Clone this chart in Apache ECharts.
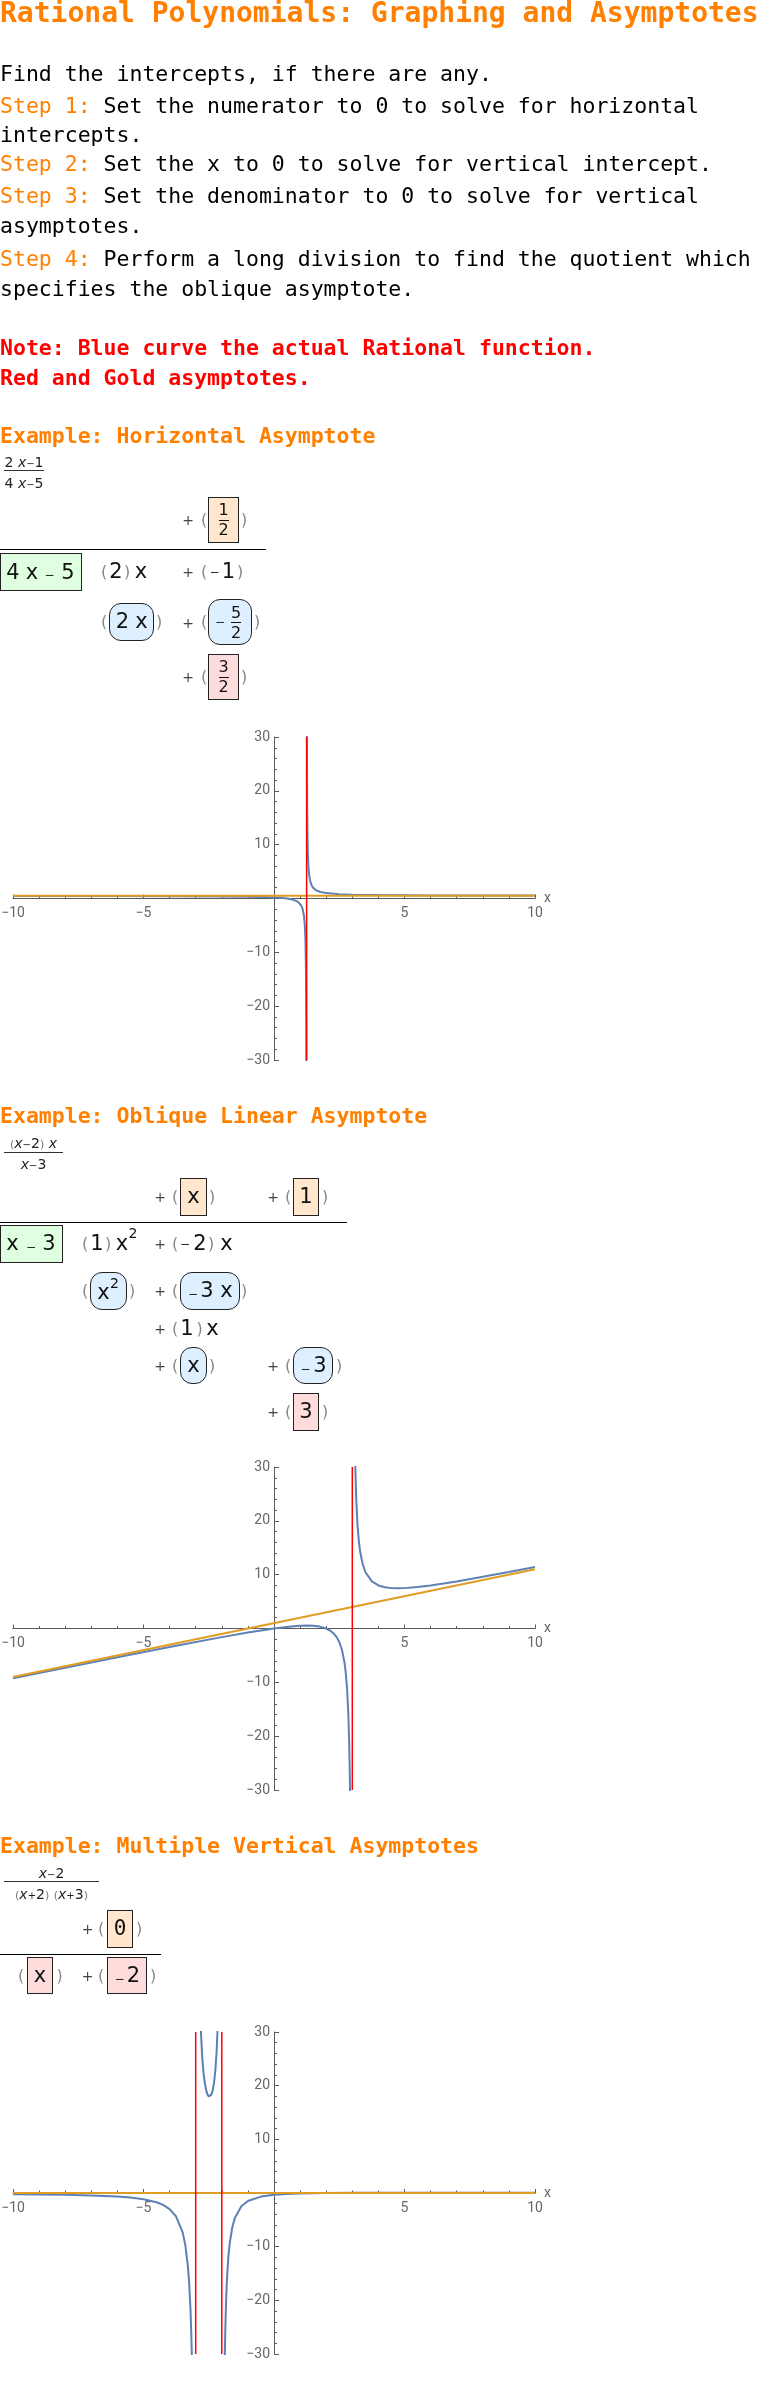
<!DOCTYPE html>
<html><head><meta charset="utf-8">
<script src="https://cdn.jsdelivr.net/npm/echarts@6/dist/echarts.min.js"></script>
<style>
body{margin:0;background:#fff;}
#page{position:relative;width:765px;height:2394px;overflow:hidden;background:#fff;}
#chart{position:absolute;left:0;top:0;width:765px;height:2394px;}
.t{position:absolute;white-space:nowrap;line-height:1;font-family:"DejaVu Sans Mono",monospace;color:#000;}
.g{position:absolute;white-space:nowrap;text-align:center;font-family:"DejaVu Sans",sans-serif;color:#111;}
.bx{position:absolute;box-sizing:border-box;border:1px solid #222;}
.or{color:#ff8000;}
</style></head>
<body><div id="page"><div id="chart"></div></div>
<script>
// ---------- data ----------
const xTickValues = [-10, -5, 0, 5, 10];
const yTickValues = [-30, -20, -10, 0, 10, 20, 30];

// Example 1: (2x-1)/(4x-5)
const ex1CurveLeft = [[-10,0.467],[-8,0.459],[-6,0.448],[-4,0.429],[-2,0.385],[-1,0.333],[-0.5,0.286],[0,0.2],[0.25,0.125],[0.5,0],[0.7,-0.182],[0.85,-0.4375],[0.95,-0.75],[1.0,-1],[1.05,-1.375],[1.1,-2],[1.15,-3.25],[1.18,-4.857],[1.2,-7],[1.21,-8.875],[1.22,-12],[1.225,-14.5],[1.23,-18.25],[1.235,-24.5],[1.2377,-30],[1.24,-37]];
const ex1CurveRight = [[1.26,38],[1.2627,30],[1.265,25.5],[1.27,19.25],[1.275,15.5],[1.28,13],[1.29,9.875],[1.3,8],[1.32,5.857],[1.35,4.25],[1.4,3],[1.45,2.375],[1.5,2],[1.6,1.571],[1.75,1.25],[2,1],[2.5,0.8],[3,0.714],[4,0.636],[5,0.6],[6,0.579],[7,0.565],[8,0.556],[10,0.543]];
const ex1Horizontal = [[-10,0.5],[10,0.5]];
const ex1Vertical = [[1.25,-30],[1.25,30]];

// Example 2: (x-2)x/(x-3)
const ex2CurveLeft = [[-10,-9.231],[-8,-7.273],[-6,-5.333],[-4,-3.429],[-2,-1.6],[-1,-0.75],[-0.5,-0.357],[0,0],[0.25,0.159],[0.5,0.3],[0.75,0.417],[1,0.5],[1.27,0.536],[1.5,0.5],[1.75,0.35],[2,0],[2.15,-0.379],[2.3,-0.986],[2.4,-1.6],[2.5,-2.5],[2.6,-3.9],[2.7,-6.3],[2.75,-8.25],[2.8,-11.2],[2.85,-16.15],[2.88,-21.12],[2.9,-26.1],[2.91,-29.42],[2.92,-33.58]];
const ex2CurveRight = [[3.1,34.1],[3.12,29.12],[3.15,24.15],[3.2,19.2],[3.25,16.25],[3.3,14.3],[3.4,11.9],[3.5,10.5],[3.75,8.75],[4,8],[4.25,7.65],[4.5,7.5],[4.73,7.464],[5,7.5],[5.5,7.7],[6,8],[7,8.75],[8,9.6],[9,10.5],[10,11.43]];
const ex2Oblique = [[-10,-9],[10,11]];
const ex2Vertical = [[3,-30],[3,30]];

// Example 3: (x-2)/((x+2)(x+3))
const ex3CurveLeft = [[-10,-0.214],[-9,-0.262],[-8,-0.333],[-7,-0.45],[-6,-0.667],[-5.5,-0.857],[-5,-1.167],[-4.5,-1.733],[-4.25,-2.222],[-4,-3],[-3.75,-4.381],[-3.5,-7.333],[-3.4,-9.643],[-3.3,-13.59],[-3.25,-16.8],[-3.2,-21.67],[-3.17,-25.99],[-3.15,-29.86],[-3.14,-32.2]];
const ex3CurveMiddle = [[-2.85,38.04],[-2.8,30],[-2.75,25.33],[-2.7,22.38],[-2.65,20.44],[-2.6,19.17],[-2.55,18.38],[-2.5,18],[-2.45,17.98],[-2.4,18.33],[-2.35,19.12],[-2.3,20.48],[-2.25,22.67],[-2.2,26.25],[-2.1667,30],[-2.15,32.55]];
const ex3CurveRight = [[-1.89,-31.86],[-1.88,-28.87],[-1.86,-24.19],[-1.83,-19.26],[-1.8,-15.83],[-1.75,-12],[-1.7,-9.487],[-1.6,-6.429],[-1.5,-4.667],[-1.25,-2.476],[-1,-1.5],[-0.5,-0.667],[0,-0.333],[0.5,-0.171],[1,-0.0833],[1.5,-0.0317],[2,0],[3,0.0333],[5,0.0536],[7,0.0556],[10,0.0513]];
const ex3Horizontal = [[-10,0],[10,0]];
const ex3VerticalA = [[-3,-30],[-3,30]];
const ex3VerticalB = [[-2,-30],[-2,30]];

// ---------- chart ----------
const BLUE = '#5e81b5', GOLD = '#e19c24', RED = '#ff0000', AX = '#5a5a5a', LB = '#666666';
const grids = [
  {left:13, top:737, width:522, height:323, containLabel:false, outerBoundsMode:'none'},
  {left:13, top:1467, width:522, height:323, containLabel:false, outerBoundsMode:'none'},
  {left:13, top:2032, width:522, height:322, containLabel:false, outerBoundsMode:'none'}
];
function fmt(v){ if (v === 0) return ''; return v < 0 ? '\u2212' + (-v) : String(v); }
const xMin = xTickValues[0], xMax = xTickValues[xTickValues.length-1];
const yMin = yTickValues[0], yMax = yTickValues[yTickValues.length-1];
// place axes through the origin (axes cross at (0,0))
const xAxes = grids.map((g,i)=>({
  gridIndex:i, type:'value', min:xMin, max:xMax, interval:5, position:'bottom',
  offset: -g.height * (0 - yMin) / (yMax - yMin),
  axisLine:{onZero:false, lineStyle:{color:AX, width:1}},
  axisTick:{inside:true, length:4, lineStyle:{color:AX}},
  minorTick:{show:true, splitNumber:5, length:2.5, lineStyle:{color:AX}},
  splitLine:{show:false},
  axisLabel:{color:LB, fontSize:14, fontFamily:'Roboto', margin:8, formatter:fmt, showMinLabel:true, showMaxLabel:true, hideOverlap:false},
  name:'x', nameLocation:'end', nameGap:9, nameTextStyle:{color:LB, fontSize:14, fontFamily:'Roboto'}
}));
const yAxes = grids.map((g,i)=>({
  gridIndex:i, type:'value', min:yMin, max:yMax, interval:10, position:'left',
  offset: -g.width * (0 - xMin) / (xMax - xMin),
  axisLine:{onZero:false, lineStyle:{color:AX, width:1}},
  axisTick:{inside:true, length:5, lineStyle:{color:AX}},
  minorTick:{show:true, splitNumber:5, length:3, lineStyle:{color:AX}},
  splitLine:{show:false},
  axisLabel:{color:LB, fontSize:14, fontFamily:'Roboto', margin:4, formatter:fmt, showMinLabel:true, showMaxLabel:true, hideOverlap:false}
}));
function ser(i, data, color, width, z){
  return {type:'line', xAxisIndex:i, yAxisIndex:i, data:data, symbol:'none', showSymbol:false,
    lineStyle:{color:color, width:width}, z:z, silent:true, clip:true};
}
const chart = echarts.init(document.getElementById('chart'));
chart.setOption({
  animation:false,
  grid:grids, xAxis:xAxes, yAxis:yAxes,
  series:[
    ser(0, ex1CurveLeft, BLUE, 2, 2), ser(0, ex1CurveRight, BLUE, 2, 2),
    ser(0, ex1Horizontal, GOLD, 2, 3), ser(0, ex1Vertical, RED, 1.5, 4),
    ser(1, ex2CurveLeft, BLUE, 2, 2), ser(1, ex2CurveRight, BLUE, 2, 2),
    ser(1, ex2Oblique, GOLD, 2, 3), ser(1, ex2Vertical, RED, 1.5, 4),
    ser(2, ex3CurveLeft, BLUE, 2, 2), ser(2, ex3CurveMiddle, BLUE, 2, 2), ser(2, ex3CurveRight, BLUE, 2, 2),
    ser(2, ex3Horizontal, GOLD, 2, 3), ser(2, ex3VerticalA, RED, 1.5, 4), ser(2, ex3VerticalB, RED, 1.5, 4)
  ]
});

// ---------- text ----------
const page = document.getElementById('page');
function T(left, base, html, fs, extra){
  const d = document.createElement('div'); d.className = 't';
  d.style.left = left + 'px'; d.style.top = (base - 0.846*fs) + 'px'; d.style.fontSize = fs + 'px';
  if (extra) Object.assign(d.style, extra);
  d.innerHTML = html; page.appendChild(d); return d;
}
function P(cx, cy, html, fs, color, fam){
  const d = document.createElement('div'); d.className = 'g';
  d.style.left = (cx-40) + 'px'; d.style.width = '80px';
  d.style.top = (cy-20) + 'px'; d.style.height = '40px'; d.style.lineHeight = '40px';
  d.style.fontSize = fs + 'px';
  if (color) d.style.color = color;
  if (fam) d.style.fontFamily = fam;
  d.innerHTML = html; page.appendChild(d); return d;
}
function R(left, top, w, h, bg){
  const d = document.createElement('div'); d.style.position='absolute';
  d.style.left=left+'px'; d.style.top=top+'px'; d.style.width=w+'px'; d.style.height=h+'px'; d.style.background=bg;
  page.appendChild(d);
}
const PEACH='#ffe6cc', GREEN='#e0ffe0', LBLUE='#def0ff', PINK='#ffdcdc';
function B(left, top, w, h, bg, rad){
  const d = document.createElement('div'); d.className='bx';
  d.style.left=left+'px'; d.style.top=top+'px'; d.style.width=w+'px'; d.style.height=h+'px';
  d.style.background=bg; d.style.borderRadius=(rad||0)+'px'; page.appendChild(d);
}
function F(cx, barY, n, d, fs, bw){
  P(cx, barY-10, n, fs); P(cx, barY+10, d, fs);
  R(cx-bw/2, barY-0.5, bw, 1, '#111');
}
function plus(cx, cy){ P(cx, cy, '+', 14, '#444'); }
function par(cx, cy, s){ P(cx, cy, s, 16, '#888'); }
function minus(cx, cy){ P(cx, cy, '\u2212', 12, '#222'); }
function small(cx, barY, w, num, den){
  const a = P(cx, barY-9, num, 14, '#222'); a.style.width='140px'; a.style.left=(cx-70)+'px';
  const b = P(cx, barY+12, den, 14, '#222'); b.style.width='140px'; b.style.left=(cx-70)+'px';
  R(cx-w/2, barY-0.5, w, 1, '#333');
}
const MS = '<span style="font-size:10px">\u2212</span>';
const PL = '<span style="font-size:10px">+</span>';
const PO = '<span style="font-size:11px;color:#777">(</span>', PC = '<span style="font-size:11px;color:#777">)</span>';
const ix = '<i>x</i>';

// header text
T(0, 23, 'Rational Polynomials: Graphing and Asymptotes', 28, {fontWeight:'bold', color:'#ff8000'});
const FS = 21.5;
T(0, 81, 'Find the intercepts, if there are any.', FS);
T(0, 113, '<span class="or">Step 1:</span> Set the numerator to 0 to solve for horizontal', FS);
T(0, 142, 'intercepts.', FS);
T(0, 171, '<span class="or">Step 2:</span> Set the x to 0 to solve for vertical intercept.', FS);
T(0, 203, '<span class="or">Step 3:</span> Set the denominator to 0 to solve for vertical', FS);
T(0, 233, 'asymptotes.', FS);
T(0, 266, '<span class="or">Step 4:</span> Perform a long division to find the quotient which', FS);
T(0, 296, 'specifies the oblique asymptote.', FS);
T(0, 355, 'Note: Blue curve the actual Rational function.', FS, {fontWeight:'bold', color:'#ff0000'});
T(0, 385, 'Red and Gold asymptotes.', FS, {fontWeight:'bold', color:'#ff0000'});
T(0, 443, 'Example: Horizontal Asymptote', FS, {fontWeight:'bold', color:'#ff8000'});
T(0, 1123, 'Example: Oblique Linear Asymptote', FS, {fontWeight:'bold', color:'#ff8000'});
T(0, 1853, 'Example: Multiple Vertical Asymptotes', FS, {fontWeight:'bold', color:'#ff8000'});

const M = 21; // main math size
// ----- Example 1 long division -----
small(24, 470.5, 40, '2 '+ix+MS+'1', '4 '+ix+MS+'5');
plus(188, 520); par(204, 520, '('); B(208, 497, 31, 46, PEACH); F(223.5, 520, '1', '2', 16, 10); par(244, 520, ')');
R(0, 549, 266, 1.3, '#000');
B(0, 553, 82, 38, GREEN); P(13, 572, '4', M); P(32, 572, 'x', M); minus(49.5, 575); P(68, 572, '5', M);
par(104, 572, '('); P(116, 571, '2', M); par(127, 572, ')'); P(141, 571, 'x', M);
plus(188, 572); par(204, 572, '('); minus(214.5, 572); P(228.5, 571, '1', M); par(240, 572, ')');
par(104, 622, '('); B(109, 603, 45, 38, LBLUE, 12); P(122.5, 621, '2', M); P(141.5, 621, 'x', M); par(159, 622, ')');
plus(188, 623); par(204, 622, '('); B(208, 599, 44, 46, LBLUE, 12); minus(220, 622); F(236, 622.5, '5', '2', 16, 10); par(257, 622, ')');
plus(188, 677); par(204, 677, '('); B(208, 654, 31, 46, PINK); F(223.5, 677, '3', '2', 16, 10); par(244, 677, ')');

// ----- Example 2 long division -----
small(33.5, 1152, 59, PO+ix+MS+'2'+PC+' '+ix, ix+MS+'3');
plus(160, 1197); par(175, 1197, '('); B(180, 1178, 27, 38, PEACH); P(193.5, 1196, 'x', M); par(212, 1197, ')');
plus(273, 1197); par(288, 1197, '('); B(293, 1178, 26, 38, PEACH); P(306, 1196, '1', M); par(325, 1197, ')');
R(0, 1222, 347, 1.3, '#000');
B(0, 1225, 63, 38, GREEN); P(12.5, 1243, 'x', M); minus(31, 1247); P(49, 1243, '3', M);
par(85, 1244, '('); P(97, 1243, '1', M); par(108, 1244, ')'); P(122, 1243, 'x', M); P(133, 1233, '2', 14);
plus(160, 1244); par(175, 1244, '('); minus(185, 1244); P(200, 1243, '2', M); par(211, 1244, ')'); P(226.5, 1243, 'x', M);
par(85, 1291, '('); B(90, 1272, 37, 38, LBLUE, 12); P(103.5, 1292, 'x', M); P(114.5, 1283, '2', 14); par(132, 1291, ')');
plus(160, 1291); par(175, 1291, '('); B(180, 1272, 60, 38, LBLUE, 12); minus(193, 1294); P(207, 1290, '3', M); P(226.5, 1290, 'x', M); par(244, 1291, ')');
plus(160, 1329); par(175, 1329, '('); P(187, 1328, '1', M); par(199.5, 1329, ')'); P(212.5, 1328, 'x', M);
plus(160, 1366); par(175, 1366, '('); B(180, 1347, 27, 37, LBLUE, 12); P(193.5, 1365, 'x', M); par(212, 1366, ')');
plus(273, 1366); par(288, 1366, '('); B(293, 1347, 40, 37, LBLUE, 12); minus(305.5, 1369); P(320, 1365, '3', M); par(339, 1366, ')');
plus(273, 1412); par(288, 1412, '('); B(293, 1393, 26, 38, PINK); P(306, 1411, '3', M); par(325, 1412, ')');

// ----- Example 3 long division -----
small(51.5, 1881.5, 95, ix+MS+'2', PO+ix+PL+'2'+PC+' '+PO+ix+PL+'3'+PC);
plus(87.5, 1929); par(101, 1929, '('); B(107, 1910, 26, 38, PEACH); P(120, 1928, '0', M, null, '"DejaVu Sans Mono",monospace'); par(139, 1929, ')');
R(0, 1954, 161, 1.3, '#000');
par(21, 1976, '('); B(27, 1957, 26, 37, PINK); P(40, 1975, 'x', M); par(59.5, 1976, ')');
plus(87.5, 1976); par(101, 1976, '('); B(107, 1957, 40, 37, PINK); minus(119.5, 1979); P(133.5, 1975, '2', M); par(153, 1976, ')');
</script></body></html>
